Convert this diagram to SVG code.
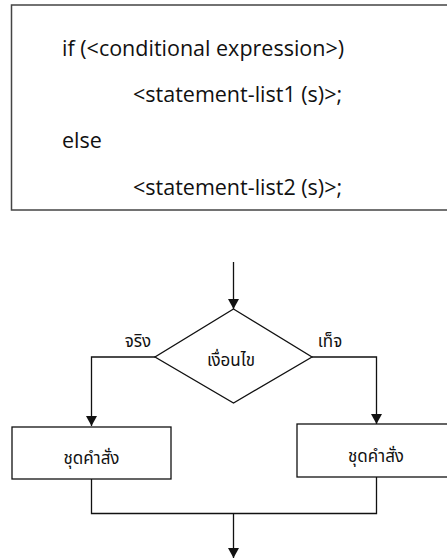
<svg xmlns="http://www.w3.org/2000/svg" width="447" height="558" viewBox="0 0 447 558">
<style>
.code{font-family:"Open Sans","Noto Sans",sans-serif;font-size:21.5px;fill:#111}
.th{font-family:"Noto Sans Thai","Noto Sans","DejaVu Sans",sans-serif;font-size:17px;fill:#111;text-anchor:middle}
.shape{fill:#fff;stroke:#111;stroke-width:1.3}
.conn{fill:none;stroke:#111;stroke-width:1.3}
</style>
<defs>
<marker id="arr" viewBox="0 0 10 14" refX="10" refY="7" markerWidth="10" markerHeight="14" markerUnits="userSpaceOnUse" orient="auto">
<path d="M0,1.5 L10,7 L0,12.5 Z" fill="#111"/>
</marker>
</defs>
<g id="code-box">
<rect x="11.5" y="5" width="450" height="205" fill="#fff" stroke="#444" stroke-width="1.5"/>
<text class="code" x="62" y="56">if (&lt;conditional expression&gt;)</text>
<text class="code" x="133" y="102">&lt;statement-list1 (s)&gt;;</text>
<text class="code" x="62" y="148">else</text>
<text class="code" x="133" y="195">&lt;statement-list2 (s)&gt;;</text>
</g>
<g id="connectors">
<line class="conn" x1="233.5" y1="262" x2="233.5" y2="309" marker-end="url(#arr)"/>
<polyline class="conn" points="155,357 91.5,357 91.5,426" marker-end="url(#arr)"/>
<polyline class="conn" points="312,357 376.5,357 376.5,424" marker-end="url(#arr)"/>
<polyline class="conn" points="91.5,479 91.5,513.5 376.5,513.5 376.5,477"/>
<line class="conn" x1="233.5" y1="513.5" x2="233.5" y2="558" marker-end="url(#arr)"/>
</g>
<g id="decision">
<polygon class="shape" points="233.5,309 312,357 233.5,403 155,357"/>
<text class="th" x="231" y="366">เงื่อนไข</text>
</g>
<g id="label-true"><text class="th" x="138" y="347">จริง</text></g>
<g id="label-false"><text class="th" x="330" y="347">เท็จ</text></g>
<g id="stmt-true">
<rect class="shape" x="12" y="427" width="159" height="52"/>
<text class="th" x="91.5" y="464">ชุดคำสั่ง</text>
</g>
<g id="stmt-false">
<rect class="shape" x="297" y="424" width="160" height="53"/>
<text class="th" x="376" y="462">ชุดคำสั่ง</text>
</g>
</svg>
